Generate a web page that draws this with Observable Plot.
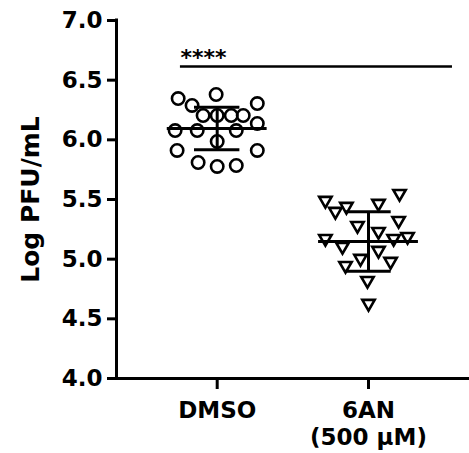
<!DOCTYPE html>
<html>
<head>
<meta charset="utf-8">
<script src="https://cdn.jsdelivr.net/npm/d3@7"></script>
<script src="https://cdn.jsdelivr.net/npm/@observablehq/plot@0.6"></script>
<style>
  html, body { margin: 0; padding: 0; background: #fff; }
  #chart { width: 469px; height: 453px; }
</style>
</head>
<body>
<div id="chart"></div>
<script>
// ---- data ----
const groupNames = ["DMSO", "6AN\n(500 µM)"];
const groupPos = [1, 2];

const dmsoValues = [6.346, 6.288, 6.380, 6.304, 6.204, 6.204, 6.204, 6.204, 6.078, 6.078, 6.078, 6.137, 5.986, 5.911, 5.911, 5.810, 5.777, 5.785];
const dmsoJitter = [-0.258, -0.166, -0.007, 0.265, -0.093, 0, 0.093, 0.172, -0.278, -0.132, 0.126, 0.265, 0, -0.265, 0.265, -0.126, 0, 0.126];

const anValues = [5.475, 5.383, 5.425, 5.450, 5.533, 5.265, 5.307, 5.215, 5.156, 5.089, 5.156, 5.173, 5.056, 4.989, 4.964, 4.930, 4.804, 4.612];
const anJitter = [-0.285, -0.219, -0.146, 0.066, 0.205, -0.073, 0.199, 0.066, -0.285, -0.172, 0.166, 0.258, 0.066, -0.053, 0.146, -0.152, -0.007, 0];

const groupMeans = [6.094, 5.148];
const groupSDs = [0.178, 0.249];

const yTicks = [4.0, 4.5, 5.0, 5.5, 6.0, 6.5, 7.0];
const yLabel = "Log PFU/mL";
const sigLabel = "****";
const sigSpan = [0.757, 2.555];
const sigLevel = 6.615;

// ---- tables ----
const dmso = dmsoValues.map((v, i) => ({x: groupPos[0] + dmsoJitter[i], y: v}));
const an = anValues.map((v, i) => ({x: groupPos[1] + anJitter[i], y: v}));
const stats = groupPos.map((g, i) => ({g, mean: groupMeans[i], lo: groupMeans[i] - groupSDs[i], hi: groupMeans[i] + groupSDs[i]}));

const xDomain = [0.3345, 2.6675];
const yDomain = [4, 7];
const meanHalf = 0.33, capHalf = 0.15;

const chart = Plot.plot({
  width: 469,
  height: 453,
  marginLeft: 116,
  marginRight: 0,
  marginTop: 20,
  marginBottom: 75,
  style: {fontFamily: "DejaVu Sans, sans-serif", color: "#000", background: "#fff"},
  x: {domain: xDomain, axis: null},
  y: {domain: yDomain, axis: null},
  marks: [
    // axis lines
    Plot.ruleX([xDomain[0]], {y1: yDomain[0], y2: yDomain[1], strokeWidth: 3, strokeLinecap: "square"}),
    Plot.ruleY([yDomain[0]], {strokeWidth: 3}),
    Plot.axisY({ticks: yTicks, tickFormat: ".1f", tickSize: 9, tickPadding: 5, strokeWidth: 3, fontSize: 23, fontWeight: "bold"}),
    Plot.axisX({ticks: groupPos, tickFormat: (d) => groupNames[d - 1], tickSize: 11, tickPadding: 9, strokeWidth: 3, fontSize: 23, fontWeight: "bold", lineHeight: 1.17}),
    Plot.text([yLabel], {frameAnchor: "left", textAnchor: "middle", dx: -86, rotate: -90, fontSize: 25, fontWeight: "bold"}),
    // points
    Plot.dot(dmso, {x: "x", y: "y", r: 6.2, stroke: "#000", strokeWidth: 2.6, fill: "none"}),
    Plot.dot(an, {x: "x", y: "y", symbol: "triangle", rotate: 180, r: 4.6, dy: -2, stroke: "#000", strokeWidth: 2.6, fill: "none"}),
    // mean & SD
    Plot.ruleY(stats, {y: "mean", x1: (d) => d.g - meanHalf, x2: (d) => d.g + meanHalf, strokeWidth: 3}),
    Plot.ruleY(stats, {y: "hi", x1: (d) => d.g - capHalf, x2: (d) => d.g + capHalf, strokeWidth: 3}),
    Plot.ruleY(stats, {y: "lo", x1: (d) => d.g - capHalf, x2: (d) => d.g + capHalf, strokeWidth: 3}),
    Plot.ruleX(stats, {x: "g", y1: "lo", y2: "hi", strokeWidth: 3}),
    // significance
    Plot.ruleY([sigLevel], {x1: sigSpan[0], x2: sigSpan[1], strokeWidth: 2.5}),
    Plot.text([sigLabel], {x: sigSpan[0], y: sigLevel, textAnchor: "start", lineAnchor: "bottom", dy: -1, fontSize: 22, fontWeight: "bold"})
  ]
});
document.getElementById("chart").append(chart);
</script>
</body>
</html>
